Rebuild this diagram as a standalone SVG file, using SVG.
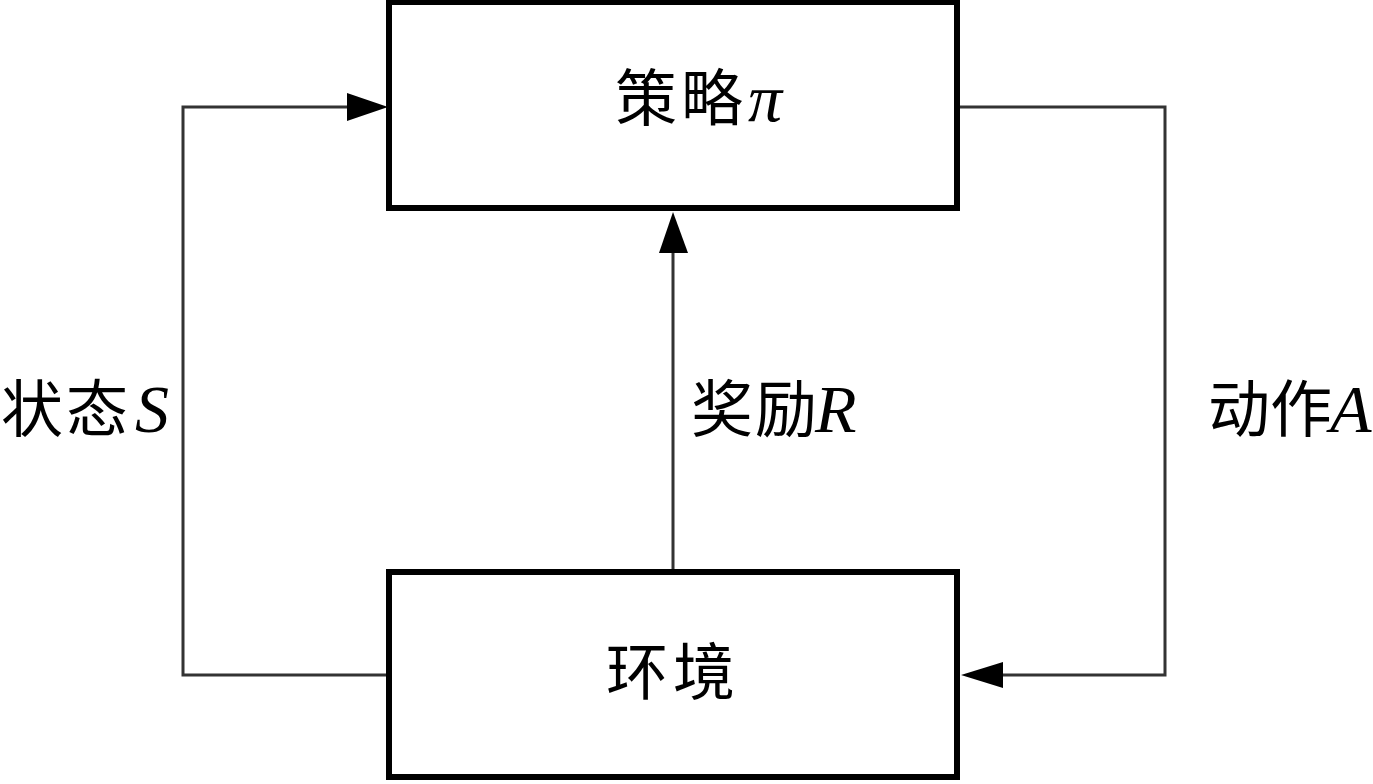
<svg xmlns="http://www.w3.org/2000/svg" width="1373" height="784" viewBox="0 0 1373 784">
<style>
.box{fill:#fff;stroke:#000;stroke-width:6}
.ln{fill:none;stroke:#333;stroke-width:3}
.ah{fill:#000;stroke:none}
.cjk{font-family:"Noto Sans CJK SC","Noto Sans CJK TC",sans-serif;font-size:62px;fill:#000}
.lat{font-family:"Liberation Serif",serif;font-style:italic;font-size:68px;fill:#000}
</style>
<rect width="1373" height="784" fill="#fff"/>
<g id="connectors">
<polyline class="ln" points="389,675 183,675 183,107 348,107"/>
<polyline class="ln" points="957,107 1165,107 1165,675 1002,675"/>
<line class="ln" x1="673" y1="572" x2="673" y2="252"/>
<polygon class="ah" points="388,107 347,93 347,121"/>
<polygon class="ah" points="673,212 659,253 688,253"/>
<polygon class="ah" points="961,675 1003,662 1003,688"/>
</g>
<g id="policy">
<rect class="box" x="389" y="2" width="568" height="206"/>
<text class="cjk" y="121"><tspan x="615">策</tspan><tspan x="681">略</tspan></text>
<text class="lat" x="748" y="121">π</text>
</g>
<g id="env">
<rect class="box" x="389" y="572" width="568" height="205"/>
<text class="cjk" y="695"><tspan x="606">环</tspan><tspan x="673">境</tspan></text>
</g>
<g id="label-state">
<text class="cjk" y="432"><tspan x="1">状</tspan><tspan x="66">态</tspan></text>
<text class="lat" x="135" y="432">S</text>
</g>
<g id="label-reward">
<text class="cjk" y="432"><tspan x="691">奖</tspan><tspan x="755">励</tspan></text>
<text class="lat" x="815" y="432">R</text>
</g>
<g id="label-action">
<text class="cjk" y="432"><tspan x="1208">动</tspan><tspan x="1270">作</tspan></text>
<text class="lat" x="1330" y="432">A</text>
</g>
</svg>
